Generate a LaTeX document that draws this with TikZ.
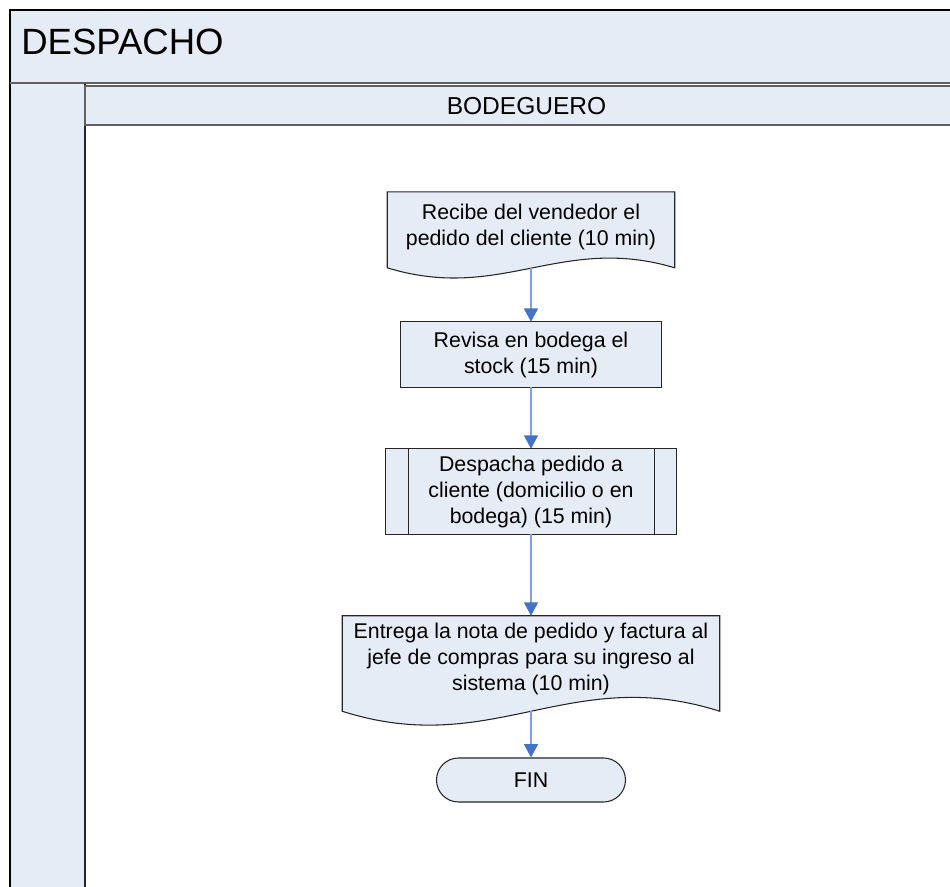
\documentclass[tikz,border=0pt]{standalone}
\usepackage{fontspec}
\setmainfont{Liberation Sans}
\usetikzlibrary{arrows.meta,calc,shapes.misc}

\definecolor{lanefill}{RGB}{230,236,246}
\definecolor{shapefill}{RGB}{230,236,246}
\definecolor{flowline}{RGB}{126,161,214}
\definecolor{flowhead}{RGB}{68,114,196}
\definecolor{rulegray}{RGB}{96,96,96}

\pgfdeclarelayer{lanes}
\pgfdeclarelayer{outlines}
\pgfsetlayers{lanes,outlines,main}

\tikzset{
  box/.style={draw=none, fill=none, align=center, inner sep=0pt,
    font=\fontsize{16}{19.5}\selectfont},
  outline/.style={draw=black!85, line width=0.8pt, fill=shapefill},
  flow/.style={draw=flowline, line width=1.1pt,
    -{Triangle[width=10.5pt,length=10pt,color=flowhead,fill=flowhead]}},
  endcap/.style={rounded rectangle, draw=black!85, line width=0.8pt,
    fill=shapefill, minimum width=141.75pt, minimum height=33pt,
    inner sep=0pt, font=\fontsize{16}{19.5}\selectfont},
}

\begin{document}
\begin{tikzpicture}[x=0.75pt,y=-0.75pt]
\clip (0,0) rectangle (950,887);

\begin{pgfonlayer}{lanes}
\fill[white] (0,0) rectangle (950,887);
% pool header
\draw[fill=lanefill, draw=black, line width=0.8pt] (10,10) rectangle (970,83);
% left column of the pool
\draw[fill=lanefill, draw=black, line width=0.8pt] (10,83) rectangle (85,900);
\draw[draw=black!85, line width=1.4pt] (85,85) -- (85,900);
% lane header
\draw[fill=lanefill, draw=rulegray, line width=0.9pt] (85,86) rectangle (970,125);
\draw[draw=rulegray, line width=1.6pt] (10,83) -- (970,83);
\end{pgfonlayer}

\node[anchor=base west, font=\fontsize{27.4}{31}\selectfont, inner sep=0pt]
  (pool) at (21,55) {DESPACHO};
\node[anchor=base, font=\fontsize{18.4}{22}\selectfont, inner sep=0pt]
  (lane) at (526.5,114.5) {BODEGUERO};

% flow steps (document texts sit a little above the wavy edge)
\node[box, text depth=7.2pt, minimum width=215.25pt, minimum height=56.6pt] (d1) at (531,229.8)
  {Recibe del vendedor el\\pedido del cliente (10 min)};
\node[box, minimum width=195pt, minimum height=48.75pt] (p1) at (531,354.5)
  {Revisa en bodega el\\stock (15 min)};
\node[box, minimum width=218.25pt, minimum height=63.75pt] (p2) at (531,491.5)
  {Despacha pedido a\\cliente (domicilio o en\\bodega) (15 min)};
\node[box, text depth=10.5pt, minimum width=282.75pt, minimum height=71.25pt] (d2) at (531,663.5)
  {Entrega la nota de pedido y factura al\\jefe de compras para su ingreso al\\sistema (10 min)};
\node[endcap] (fin) at (531,780) {FIN};

% outlines behind the step texts
\begin{pgfonlayer}{outlines}
  % document shape with a wavy lower edge
  \draw[outline] (d1.north west) -- (d1.north east) -- (d1.south east)
    .. controls ($(d1.south)+(30,-34)$) and ($(d1.south)+(-30,35)$) .. (d1.south west)
    -- cycle;
  % plain process
  \draw[outline] (p1.north west) rectangle (p1.south east);
  % predefined process with inner side bars
  \draw[outline] (p2.north west) rectangle (p2.south east);
  \draw[draw=black!85, line width=0.8pt]
    ($(p2.north west)+(23,0)$) -- ($(p2.south west)+(23,0)$)
    ($(p2.north east)+(-22,0)$) -- ($(p2.south east)+(-22,0)$);
  % second document shape
  \draw[outline] (d2.north west) -- (d2.north east) -- (d2.south east)
    .. controls ($(d2.south)+(38,-48)$) and ($(d2.south)+(-38,48)$) .. (d2.south west)
    -- cycle;
\end{pgfonlayer}

% connectors
\draw[flow] (d1.south) -- (p1.north);
\draw[flow] (p1.south) -- (p2.north);
\draw[flow] (p2.south) -- (d2.north);
\draw[flow] (d2.south) -- (fin.north);

\end{tikzpicture}
\end{document}
